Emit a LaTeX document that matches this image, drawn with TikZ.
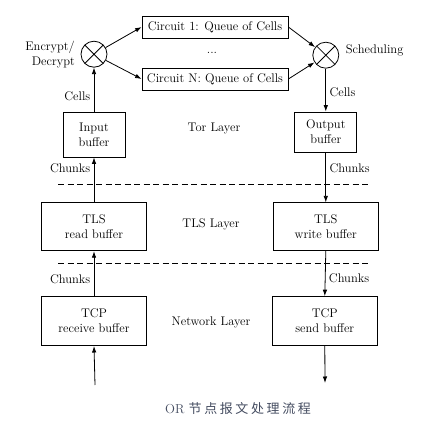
\documentclass[tikz,border=0pt]{standalone}
\usepackage{fontspec}
\newfontfamily\cjk[LetterSpace=20]{Noto Sans CJK SC}
\usepackage{xcolor}
\usepackage{tikz}
\usetikzlibrary{positioning,arrows.meta}
\definecolor{captiongray}{RGB}{68,76,96}
\tikzstyle{queue} = [draw, rectangle, minimum height=22pt, minimum width=146pt, inner sep=2pt]
\tikzstyle{buffer} = [draw, rectangle, align=center, minimum height=48pt, minimum width=105pt]
\tikzstyle{torbuf} = [draw, rectangle, align=center, minimum width=62pt, inner sep=2pt]
\tikzstyle{mixer} = [draw, circle, minimum size=26pt, inner sep=0pt, path picture={
	\draw (path picture bounding box.north west) -- (path picture bounding box.south east)
	(path picture bounding box.north east) -- (path picture bounding box.south west);}]
\tikzstyle{layerline} = [dash pattern=on 6pt off 3.5pt]

\begin{document}
\begin{tikzpicture}[x=1pt, y=1pt, line width=0.8pt, >={Latex[length=6.5pt,width=4.5pt]}, font=\fontsize{12.5}{15}\selectfont]
		\useasboundingbox (0,0) rectangle (437,-431);
		% Tor layer
		\node [torbuf, minimum height=45pt] (inbuf) at (94,-134.5) {Input\\buffer};
		\node [mixer, above=44pt of inbuf] (enc) {};
		\node [left=2pt of enc, align=right] (enclabel) {Encrypt/\\Decrypt};
		\node [queue] (circ1) at (215,-27) {Circuit 1: Queue of Cells};
		\node [queue] (circN) at (215,-79) {Circuit N: Queue of Cells};
		\node (dots) at (212,-53) {...};
		\node at (214,-129) (torlayer) {Tor Layer};
		
		% TLS and network layers
		\node [buffer, below=45pt of inbuf] (tlsr) {TLS\\read buffer};
		\node [buffer, right=126pt of tlsr] (tlsw) {TLS\\write buffer};
		\node [torbuf, minimum height=40pt, above=50pt of tlsw] (outbuf) {Output\\buffer};
		\node [mixer, above=43pt of outbuf] (sched) {};
		\node [right=3pt of sched, yshift=5pt] (schedlabel) {Scheduling};
		\node [buffer, minimum height=49pt, below=45pt of tlsr] (tcpr) {TCP\\receive buffer};
		\node [buffer, minimum height=49pt, right=125pt of tcpr] (tcps) {TCP\\send buffer};
		\node at (211,-224) (tlslayer) {TLS Layer};
		\node at (211,-322) (netlayer) {Network Layer};
		
		\coordinate (sep1a) at (58,-184);
		\coordinate (sep1b) at (368,-184);
		\coordinate (sep2a) at (58,-263);
		\coordinate (sep2b) at (368,-263);
		\coordinate (netin) at (95,-385);
		\coordinate (netout) at (325,-383);
		\draw [layerline] (sep1a) -- (sep1b);
		\draw [layerline] (sep2a) -- (sep2b);
		
		\draw [->] (enc) -- (circ1.west);
		\draw [->] (enc) -- (circN.west);
		\draw [->] (circ1.east) -- (sched);
		\draw [->] (circN.east) -- (sched);
		\draw [->] (inbuf.north) -- node [left, pos=0.35] {Cells} (enc);
		\draw [->] (sched) -- node [right, pos=0.56] {Cells} (outbuf.north);
		\draw [->] (tlsr.north) -- node [left, pos=0.76] {Chunks} (inbuf.south);
		\draw [->] (outbuf.south) -- node [right, pos=0.32] {Chunks} (tlsw.north);
		\draw [->] (tcpr.north) -- node [left, pos=0.38] {Chunks} (tlsr.south);
		\draw [->] (tlsw.south) -- node [right, pos=0.6] {Chunks} (tcps.north);
		\draw [->] (netin) -- (tcpr.south);
		\draw [->] (tcps.south) -- (netout);
		
		\node [text=captiongray, font=\fontsize{13}{15}\selectfont] (caption) at (238,-409) {OR {\cjk 节点报文处理流程}};
	\end{tikzpicture}
\end{document}
